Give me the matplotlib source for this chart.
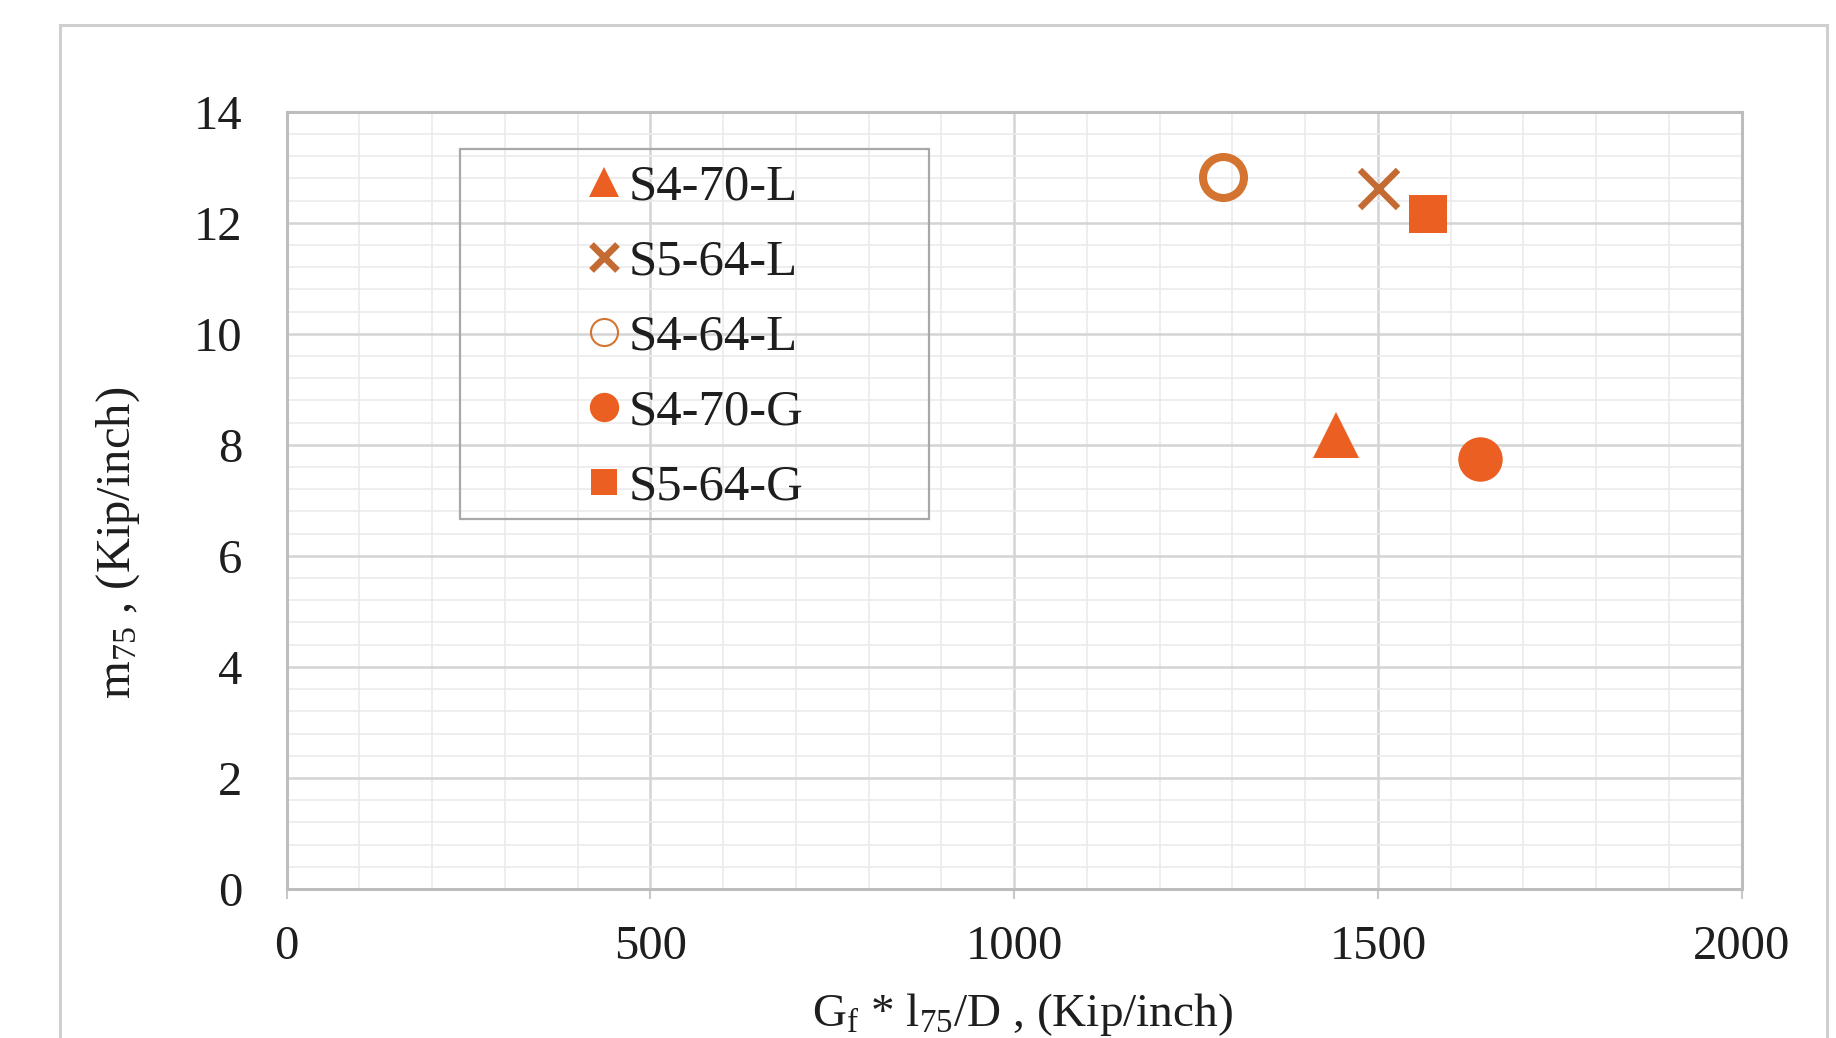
import matplotlib
matplotlib.use("Agg")
import matplotlib.pyplot as plt
from matplotlib.patches import Rectangle
from matplotlib.ticker import MultipleLocator

# ---- data ----
series = ["S4-70-L", "S5-64-L", "S4-64-L", "S4-70-G", "S5-64-G"]
x_vals = [1442, 1501, 1287, 1640, 1569]
y_vals = [8.17, 12.61, 12.82, 7.75, 12.16]
x_ticks = [0, 500, 1000, 1500, 2000]
y_ticks = [0, 2, 4, 6, 8, 10, 12, 14]

# ---- styles ----
styles = {
    "S4-70-L": dict(marker="^", ms=33, mfc="#EC5F22", mec="#EC5F22", mew=0),
    "S5-64-L": dict(marker="x", ms=28, mfc="none", mec="#C46B33", mew=4.6),
    "S4-64-L": dict(marker="o", ms=29.5, mfc="none", mec="#D47430", mew=5.8),
    "S4-70-G": dict(marker="o", ms=32, mfc="#EC5F22", mec="#EC5F22", mew=0),
    "S5-64-G": dict(marker="s", ms=27.5, mfc="#EC5F22", mec="#EC5F22", mew=0),
}
legend_mew = {"S5-64-L": 4.8, "S4-64-L": 1.5}

plt.rcParams["font.family"] = ["Liberation Serif", "DejaVu Serif"]
plt.rcParams["mathtext.fontset"] = "custom"
plt.rcParams["mathtext.rm"] = "Liberation Serif"
plt.rcParams["mathtext.it"] = "Liberation Serif:italic"
plt.rcParams["mathtext.default"] = "regular"

W, H = 1836, 1038
fig = plt.figure(figsize=(W / 100, H / 100), dpi=100)
fig.patch.set_facecolor("white")

ax = fig.add_axes([286.7 / W, 1 - 889 / H, (1741.7 - 286.7) / W, (889 - 111.7) / H])

for name, xv, yv in zip(series, x_vals, y_vals):
    ax.plot([xv], [yv], linestyle="none", label=name, **styles[name], zorder=5)

ax.set_xlim(0, 2000)
ax.set_ylim(0, 14)
ax.set_xticks(x_ticks)
ax.set_yticks(y_ticks)
ax.xaxis.set_minor_locator(MultipleLocator(100))
ax.yaxis.set_minor_locator(MultipleLocator(0.4))

ax.grid(which="major", color="#D4D4D4", linewidth=1.8, zorder=0)
ax.grid(which="minor", color="#EBEBEB", linewidth=1.2, zorder=0)
ax.set_axisbelow(True)

for sp in ax.spines.values():
    sp.set_color("#BDBDBD")
    sp.set_linewidth(2.2)

ax.tick_params(axis="x", which="major", length=7, width=1.5, color="#C8C8C8",
               direction="out", pad=19, labelsize=35, labelcolor="#1E1E1E")
ax.tick_params(axis="y", which="major", length=0, pad=32, labelsize=35,
               labelcolor="#1E1E1E")
ax.tick_params(which="minor", length=0)

ax.set_xlabel(r"G$_{\mathrm{f}}$ * l$_{75}$/D , (Kip/inch)", fontsize=34,
              color="#1E1E1E", va="baseline")
ax.xaxis.set_label_coords(0.5054, (889 - 1026) / (889 - 111.7))
ax.set_ylabel(r"m$_{75}$ , (Kip/inch)", fontsize=35, color="#1E1E1E", va="center")
ax.yaxis.set_label_coords((118 - 286.7) / (1741.7 - 286.7), (889 - 543) / (889 - 111.7))

# legend (content) + its box
leg = ax.legend(loc="center left", bbox_to_anchor=(588.4 / W, 1 - 337.5 / H),
                bbox_transform=fig.transFigure, frameon=False, fontsize=36.5,
                markerscale=0.66, handlelength=0.6, handletextpad=0.2,
                borderpad=0, labelspacing=0.56, borderaxespad=0)
for t in leg.get_texts():
    t.set_color("#1E1E1E")
for name, h in zip(series, leg.legend_handles):
    if name in legend_mew:
        h.set_markeredgewidth(legend_mew[name])
fig.patches.append(Rectangle((460 / W, 1 - 519 / H), 469 / W, 370 / H,
                             transform=fig.transFigure, fill=False,
                             edgecolor="#A8A8A8", linewidth=1.6, zorder=10))

# outer chart border
fig.patches.append(Rectangle((60 / W, -0.05), (1827 - 60) / W, 1.05 - 25 / H,
                             transform=fig.transFigure, fill=False,
                             edgecolor="#CFCFCF", linewidth=2.2, zorder=0))

fig.savefig("out.png", dpi=100)
